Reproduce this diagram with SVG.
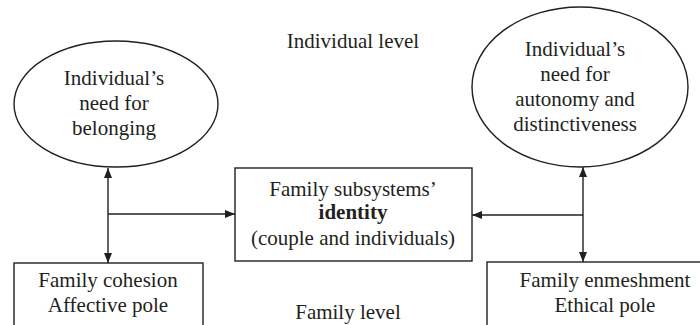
<svg xmlns="http://www.w3.org/2000/svg" width="700" height="325" viewBox="0 0 700 325">
<style>
text{font-family:"Liberation Serif","Times New Roman",serif;font-size:21px;fill:#231f20;text-anchor:middle}
.shape{fill:#fff;stroke:#231f20;stroke-width:1.4}
.conn{fill:none;stroke:#231f20;stroke-width:1.4}
</style>
<defs>
<marker id="ah" markerWidth="10" markerHeight="8" refX="10" refY="4" orient="auto-start-reverse" markerUnits="userSpaceOnUse">
<path d="M0,0 L10,4 L0,8 Z" fill="#231f20"/>
</marker>
</defs>
<rect width="700" height="325" fill="#fff"/>
<g id="label-individual"><text x="353" y="48">Individual level</text></g>
<g id="label-family"><text x="348" y="319">Family level</text></g>
<g id="belonging">
<ellipse class="shape" cx="116" cy="104" rx="102" ry="63"/>
<text x="114" y="85">Individual’s</text>
<text x="114" y="110">need for</text>
<text x="114" y="135">belonging</text>
</g>
<g id="autonomy">
<ellipse class="shape" cx="580" cy="87" rx="108" ry="80"/>
<text x="575" y="56">Individual’s</text>
<text x="575" y="81">need for</text>
<text x="575" y="106">autonomy and</text>
<text x="575" y="131">distinctiveness</text>
</g>
<g id="identity">
<rect class="shape" x="235" y="168" width="237" height="93"/>
<text x="353" y="196">Family subsystems’</text>
<text x="353" y="219" font-weight="bold">identity</text>
<text x="353" y="245">(couple and individuals)</text>
</g>
<g id="cohesion">
<rect class="shape" x="14" y="263" width="189" height="70"/>
<text x="108" y="287">Family cohesion</text>
<text x="108" y="312">Affective pole</text>
</g>
<g id="enmeshment">
<rect class="shape" x="487" y="262" width="236" height="70"/>
<text x="605" y="287">Family enmeshment</text>
<text x="605" y="312">Ethical pole</text>
</g>
<g id="connectors">
<line class="conn" x1="108" y1="214" x2="108" y2="168" marker-end="url(#ah)"/>
<line class="conn" x1="108" y1="214" x2="108" y2="263" marker-end="url(#ah)"/>
<line class="conn" x1="108" y1="214" x2="235" y2="214" marker-end="url(#ah)"/>
<line class="conn" x1="583" y1="215" x2="583" y2="167" marker-end="url(#ah)"/>
<line class="conn" x1="583" y1="215" x2="583" y2="262" marker-end="url(#ah)"/>
<line class="conn" x1="583" y1="215" x2="472" y2="215" marker-end="url(#ah)"/>
</g>
</svg>
